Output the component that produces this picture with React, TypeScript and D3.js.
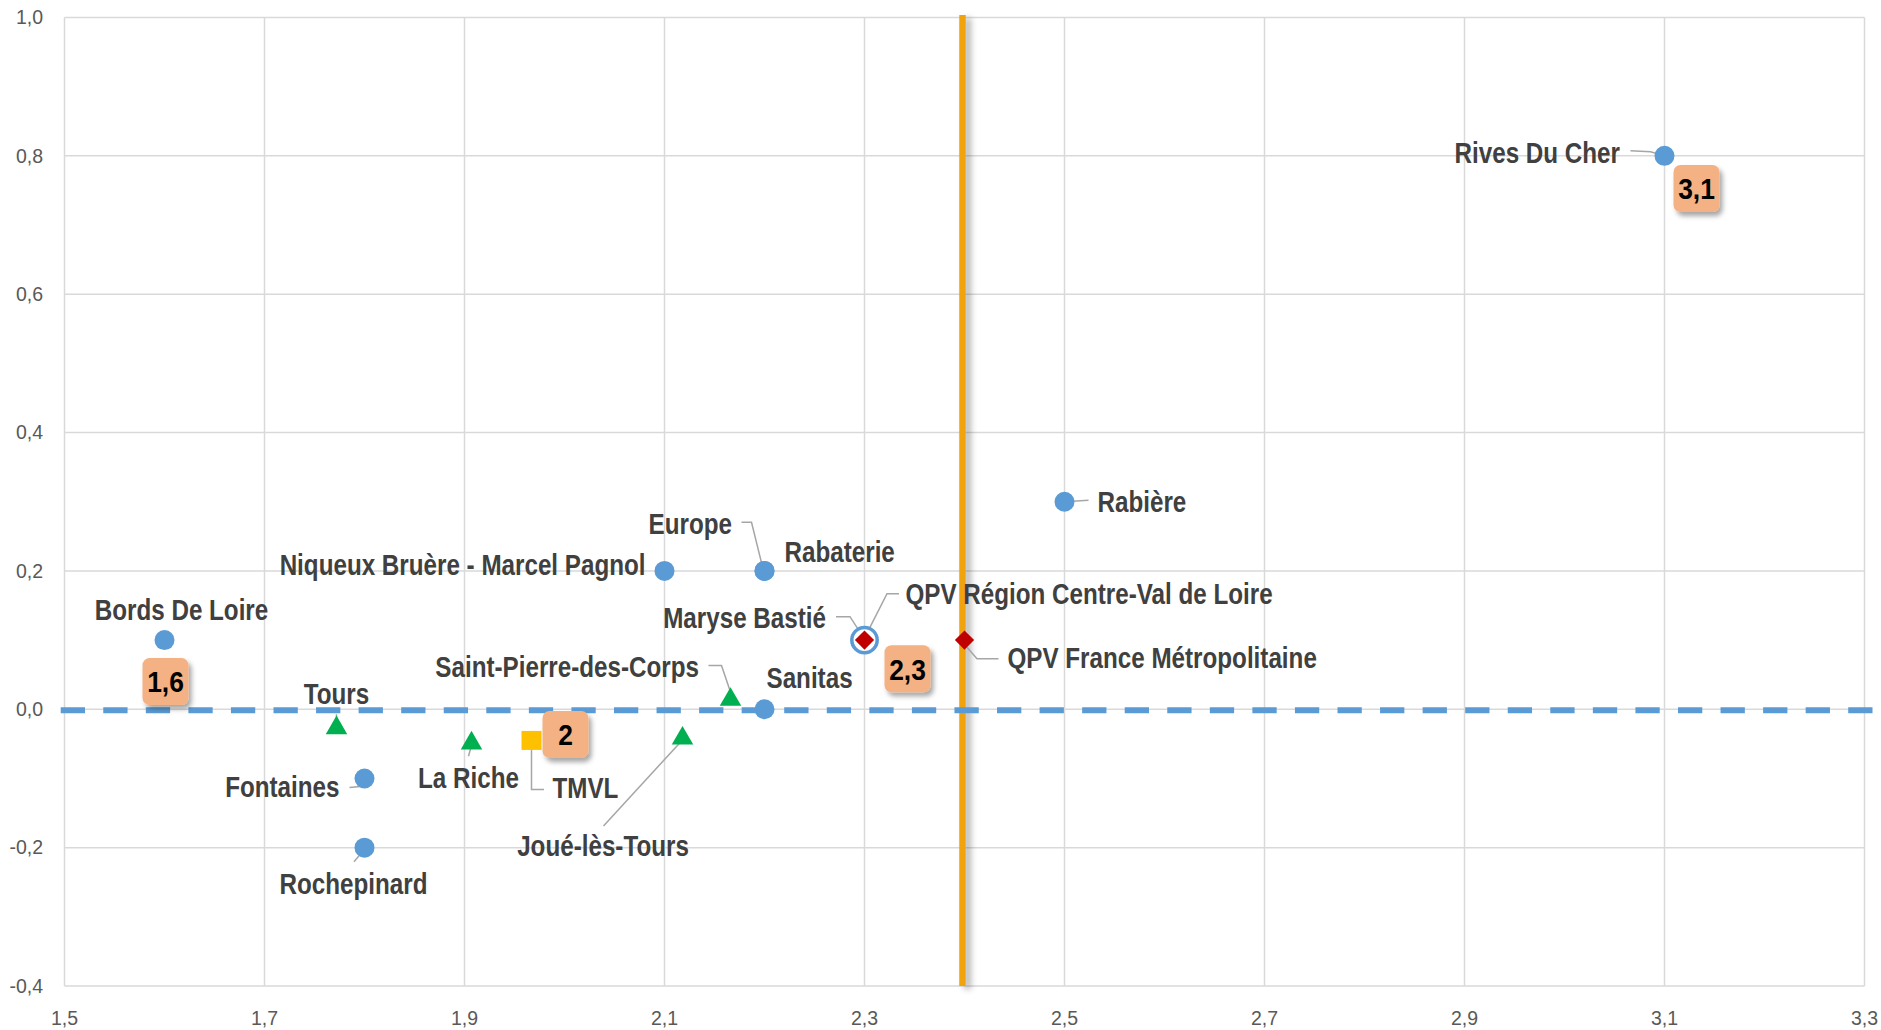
import React, { useEffect } from "react";
import * as d3 from "d3";

// ---------- DATA ----------
const xTicks = [1.5, 1.7, 1.9, 2.1, 2.3, 2.5, 2.7, 2.9, 3.1, 3.3];
const yTicks = [-0.4, -0.2, 0.0, 0.2, 0.4, 0.6, 0.8, 1.0];

// Quartiers (blue circles)
const quartierNames = [
  "Rives Du Cher", "Rabière", "Niqueux Bruère - Marcel Pagnol", "Europe", "Rabaterie",
  "Maryse Bastié", "Bords De Loire", "Sanitas", "Fontaines", "Rochepinard",
];
const quartierX = [3.1, 2.5, 2.1, 2.2, 2.2, 2.3, 1.6, 2.2, 1.8, 1.8];
const quartierY = [0.8, 0.3, 0.2, 0.2, 0.2, 0.1, 0.1, 0.0, -0.1, -0.2];
const highlightedQuartier = "Maryse Bastié";

// Communes (green triangles)
const communeNames = ["Tours", "La Riche", "Joué-lès-Tours", "Saint-Pierre-des-Corps"];
const communeX = [1.772, 1.907, 2.118, 2.166];
const communeY = [-0.027, -0.049, -0.042, 0.014];

// EPCI (yellow square)
const epciNames = ["TMVL"];
const epciX = [1.967];
const epciY = [-0.045];

// References (red diamonds)
const refNames = ["QPV Région Centre-Val de Loire", "QPV France Métropolitaine"];
const refX = [2.3, 2.4];
const refY = [0.1, 0.1];

// Reference lines
const verticalRefX = 2.4;
const horizontalRefY = 0.0;

// Value callouts
const calloutTargets = ["Bords De Loire", "TMVL", "Maryse Bastié", "Rives Du Cher"];
const calloutTexts = ["1,6", "2", "2,3", "3,1"];

// ---------- LAYOUT (label offsets in px, relative to the point) ----------
type LabelLayout = { dx: number; dy: number; anchor: "start" | "middle" | "end"; leader?: [number, number][] };
const labelLayout: Record<string, LabelLayout> = {
  "Rives Du Cher": { dx: -44.5, dy: 7, anchor: "end", leader: [[-34, -5], [-14, -4], [0, 0]] },
  "Rabière": { dx: 33, dy: 10, anchor: "start", leader: [[0, 0], [24, -1.5]] },
  "Niqueux Bruère - Marcel Pagnol": { dx: -19, dy: 4, anchor: "end" },
  "Europe": { dx: -32.5, dy: -37, anchor: "end", leader: [[-23, -48.6], [-13, -48.6], [-1, 0]] },
  "Rabaterie": { dx: 20, dy: -9, anchor: "start" },
  "Maryse Bastié": { dx: -38.5, dy: -12.4, anchor: "end", leader: [[-28.5, -23.4], [-14.5, -23.4], [-1, -2.4]] },
  "Bords De Loire": { dx: 17, dy: -20.5, anchor: "middle" },
  "Sanitas": { dx: 2, dy: -21, anchor: "start" },
  "Fontaines": { dx: -25, dy: 19, anchor: "end", leader: [[-15, 9], [-4.5, 8], [0, 1]] },
  "Rochepinard": { dx: -11, dy: 46, anchor: "middle", leader: [[-10.5, 14], [0, 1.6]] },
  "Tours": { dx: 0, dy: -24, anchor: "middle", leader: [[0, -13.7], [0, -1]] },
  "La Riche": { dx: -3, dy: 45, anchor: "middle", leader: [[-3, 13], [0, 2]] },
  "Joué-lès-Tours": { dx: -79.5, dy: 118, anchor: "middle", leader: [[-79, 87.6], [0, 1.6]] },
  "Saint-Pierre-des-Corps": { dx: -31.5, dy: -23, anchor: "end", leader: [[-22, -34], [-9, -34], [0.5, -6]] },
  "TMVL": { dx: 21, dy: 58, anchor: "start", leader: [[0, 6], [0, 49], [12.5, 49]] },
  "QPV Région Centre-Val de Loire": { dx: 41, dy: -36, anchor: "start", leader: [[34.5, -46.4], [22.5, -46.4], [1, -4]] },
  "QPV France Métropolitaine": { dx: 43, dy: 27.6, anchor: "start", leader: [[-3, 1], [12.5, 18.6], [34, 18.6]] },
};
const calloutOffsets: Record<string, [number, number]> = {
  "Bords De Loire": [1, 41.5],
  "TMVL": [34, -6],
  "Maryse Bastié": [43, 28.7],
  "Rives Du Cher": [32, 32.7],
};

const W = 1881;
const H = 1030;
const FONT = "'Liberation Sans', Arial, sans-serif";

function NText(props: {
  x: number; y: number; anchor?: "start" | "middle" | "end"; size: number; weight?: string; fill: string;
  dy?: string; sx?: number; children: React.ReactNode;
}) {
  return (
    <text
      transform={`translate(${props.x},${props.y}) scale(${props.sx ?? 1},1)`}
      textAnchor={props.anchor || "start"}
      fontFamily={FONT}
      fontSize={props.size}
      fontWeight={props.weight || "normal"}
      fill={props.fill}
      dy={props.dy}
    >
      {props.children}
    </text>
  );
}

export default function App() {
  useEffect(() => {
    document.body.style.margin = "0";
  }, []);

  const x = d3.scaleLinear().domain([1.5, 3.3]).range([64.5, 1864.5]);
  const y = d3.scaleLinear().domain([-0.4, 1.0]).range([986, 17.5]);

  const fmt = (v: number) => d3.format(".1f")(v).replace(".", ",").replace("\u2212", "-");

  const allPoints: { name: string; px: number; py: number }[] = [];
  quartierNames.forEach((n, i) => allPoints.push({ name: n, px: x(quartierX[i]), py: y(quartierY[i]) }));
  communeNames.forEach((n, i) => allPoints.push({ name: n, px: x(communeX[i]), py: y(communeY[i]) }));
  epciNames.forEach((n, i) => allPoints.push({ name: n, px: x(epciX[i]), py: y(epciY[i]) }));
  refNames.forEach((n, i) => allPoints.push({ name: n, px: x(refX[i]), py: y(refY[i]) }));
  const pos = (name: string) => allPoints.find((p) => p.name === name)!;

  const triangle = d3.symbol().type(d3.symbolTriangle).size(200);
  const line = d3.line<[number, number]>();

  const vx = x(verticalRefX) - 2;

  return (
    <svg width={W} height={H} style={{ position: "absolute", left: 0, top: 0, background: "#fff" }}>
      <defs>
        <filter id="boxShadow" x="-30%" y="-30%" width="170%" height="170%">
          <feDropShadow dx="3" dy="4" stdDeviation="2.5" floodColor="#000" floodOpacity="0.35" />
        </filter>
        <filter id="lineShadow" filterUnits="userSpaceOnUse" x={vx - 20} y={0} width={60} height={H}>
          <feDropShadow dx="5" dy="3" stdDeviation="3" floodColor="#000" floodOpacity="0.3" />
        </filter>
      </defs>

      {/* grid */}
      <g stroke="#D9D9D9" strokeWidth={1.5}>
        {xTicks.map((t) => (
          <line key={"gx" + t} x1={x(t)} x2={x(t)} y1={y(1.0)} y2={y(-0.4)} />
        ))}
        {yTicks.map((t) => (
          <line key={"gy" + t} x1={x(1.5)} x2={x(3.3)} y1={y(t)} y2={y(t)} />
        ))}
      </g>

      {/* tick labels */}
      {yTicks.map((t) => (
        <NText key={"ty" + t} x={43} y={y(t)} dy="0.35em" anchor="end" size={19.5} fill="#595959">
          {fmt(t)}
        </NText>
      ))}
      {xTicks.map((t) => (
        <NText key={"tx" + t} x={x(t)} y={1025} anchor="middle" size={19.5} fill="#595959">
          {fmt(t)}
        </NText>
      ))}

      {/* vertical orange reference line */}
      <rect
        x={vx - 3.25}
        y={y(1.0) - 2.5}
        width={6.5}
        height={y(-0.4) - y(1.0) + 2.5}
        fill="#F0A30A"
        filter="url(#lineShadow)"
      />

      {/* horizontal dashed reference line */}
      <line
        x1={x(1.5) - 3.8}
        x2={x(3.3) + 8}
        y1={y(horizontalRefY) + 1}
        y2={y(horizontalRefY) + 1}
        stroke="#5B9BD5"
        strokeWidth={6}
        strokeDasharray="24.3 18.26"
      />

      {/* leaders */}
      <g fill="none" stroke="#A6A6A6" strokeWidth={1.5}>
        {allPoints.map((p) => {
          const l = labelLayout[p.name];
          if (!l || !l.leader) return null;
          const pts = l.leader.map(([dx, dy]) => [p.px + dx, p.py + dy] as [number, number]);
          return <path key={"ld" + p.name} d={line(pts) || ""} />;
        })}
      </g>

      {/* quartiers */}
      {quartierNames.map((n, i) =>
        n === highlightedQuartier ? (
          <circle key={"q" + n} cx={x(quartierX[i])} cy={y(quartierY[i])} r={12.7} fill="#fff" stroke="#5B9BD5" strokeWidth={3.5} />
        ) : (
          <circle key={"q" + n} cx={x(quartierX[i])} cy={y(quartierY[i])} r={10} fill="#5B9BD5" />
        )
      )}

      {/* communes */}
      {communeNames.map((n, i) => (
        <path key={"c" + n} d={triangle() || ""} transform={`translate(${x(communeX[i])},${y(communeY[i])})`} fill="#00B050" />
      ))}

      {/* epci */}
      {epciNames.map((n, i) => (
        <rect key={"e" + n} x={x(epciX[i]) - 10} y={y(epciY[i]) - 9.5} width={20} height={19} fill="#FFC000" />
      ))}

      {/* references */}
      {refNames.map((n, i) => (
        <rect
          key={"r" + n}
          x={-6.8}
          y={-6.8}
          width={13.6}
          height={13.6}
          fill="#C00000"
          transform={`translate(${x(refX[i])},${y(refY[i])}) rotate(45)`}
        />
      ))}

      {/* labels */}
      {allPoints.map((p) => {
        const l = labelLayout[p.name];
        if (!l) return null;
        return (
          <NText key={"lb" + p.name} x={p.px + l.dx} y={p.py + l.dy} anchor={l.anchor} size={29} sx={0.835} weight="bold" fill="#404040">
            {p.name}
          </NText>
        );
      })}

      {/* callouts */}
      {calloutTargets.map((n, i) => {
        const p = pos(n);
        const [ox, oy] = calloutOffsets[n];
        const cx = p.px + ox;
        const cy = p.py + oy;
        return (
          <g key={"co" + n}>
            <rect x={cx - 23} y={cy - 23.5} width={46} height={47} rx={7} fill="#F4B183" filter="url(#boxShadow)" />
            <NText x={cx} y={cy} dy="0.36em" anchor="middle" size={30} sx={0.88} weight="bold" fill="#000">
              {calloutTexts[i]}
            </NText>
          </g>
        );
      })}
    </svg>
  );
}
